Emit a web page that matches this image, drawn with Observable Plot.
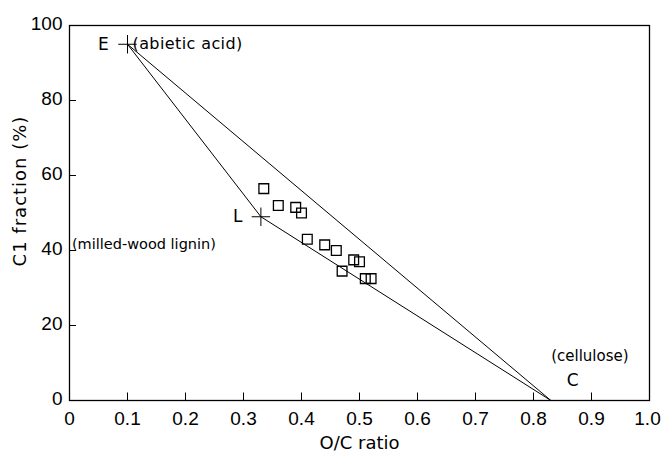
<!DOCTYPE html>
<html><head><meta charset="utf-8">
<script src="https://cdn.jsdelivr.net/npm/d3@7"></script>
<script src="https://cdn.jsdelivr.net/npm/@observablehq/plot@0.6"></script>
<style>
body{margin:0;background:#fff;}
.ylab text{letter-spacing:1px;}
.ann text{letter-spacing:0.4px;}
</style></head><body><div id="chart"></div>
<script>
const refNames = ["E", "L", "C"];
const refOC = [0.10, 0.33, 0.83];
const refC1 = [95, 49, 0];
const refDesc = ["(abietic acid)", "(milled-wood lignin)", "(cellulose)"];
const sampleOC = [0.335, 0.36, 0.39, 0.40, 0.41, 0.44, 0.46, 0.49, 0.50, 0.47, 0.51, 0.52];
const sampleC1 = [56.5, 52, 51.5, 50, 43, 41.5, 40, 37.5, 37, 34.5, 32.5, 32.5];
const xTicks = [0, 0.1, 0.2, 0.3, 0.4, 0.5, 0.6, 0.7, 0.8, 0.9, 1.0];
const xTickLabels = ["0", "0.1", "0.2", "0.3", "0.4", "0.5", "0.6", "0.7", "0.8", "0.9", "1.0"];
const yTicks = [0, 20, 40, 60, 80, 100];

const refs = refNames.map((n, i) => ({name: n, x: refOC[i], y: refC1[i], desc: refDesc[i]}));
const samples = sampleOC.map((x, i) => ({x, y: sampleC1[i]}));
const tri = [refs[0], refs[1], refs[2], refs[0]];
const fmtX = d => xTickLabels[xTicks.indexOf(d)];
const tickFont = "Liberation Sans, Arial, sans-serif";

const chart = Plot.plot({
  width: 661, height: 458,
  marginLeft: 69, marginRight: 12, marginTop: 25, marginBottom: 58,
  x: {domain: [0, 1]},
  y: {domain: [0, 100]},
  style: {fontSize: "16px", fontFamily: "DejaVu Sans, sans-serif", color: "#000", background: "#fff"},
  marks: [
    Plot.frame({stroke: "#000", strokeWidth: 1.3}),
    Plot.axisX({ticks: xTicks.slice(0, -1), tickSize: 0, tickPadding: 11, tickFormat: fmtX, fontSize: 19, fontFamily: tickFont, label: null}),
    Plot.axisX({ticks: xTicks.slice(-1), tickSize: 0, tickPadding: 11, tickFormat: fmtX, fontSize: 19, fontFamily: tickFont, dx: -2, label: null}),
    Plot.axisY({ticks: yTicks, tickSize: 0, tickPadding: 7, dy: -2, fontSize: 19, fontFamily: tickFont, label: null}),
    Plot.ruleX(xTicks, {x: d => d, y1: 0, y2: 2, stroke: "#000"}),
    Plot.ruleY(yTicks, {y: d => d, x1: 0, x2: 0.012, stroke: "#000"}),
    Plot.text(["O/C ratio"], {frameAnchor: "bottom", dy: 48, fontSize: 18}),
    Plot.text(["C1 fraction (%)"], {frameAnchor: "left", textAnchor: "middle", dx: -49, dy: -22, rotate: -90, fontSize: 18, className: "ylab"}),
    Plot.line(tri, {x: "x", y: "y", stroke: "#000", strokeWidth: 1}),
    Plot.dot(samples, {x: "x", y: "y", symbol: "square", r: 5.5, stroke: "#000", strokeWidth: 1.3, fill: "none"}),
    Plot.dot(refs.slice(0, 2), {x: "x", y: "y", symbol: "plus", r: 6, stroke: "#000", strokeWidth: 1}),
    Plot.text([refs[0]], {x: "x", y: "y", text: "name", dx: -24, fontSize: 17, className: "ann"}),
    Plot.text([refs[0]], {x: "x", y: "y", text: "desc", textAnchor: "start", dx: 5, fontSize: 16, className: "ann"}),
    Plot.text([refs[1]], {x: "x", y: "y", text: "name", dx: -23, fontSize: 17, className: "ann"}),
    Plot.text([refs[1]], {x: "x", y: "y", text: "desc", textAnchor: "end", dx: -45, dy: 28, fontSize: 14.5}),
    Plot.text([refs[2]], {x: "x", y: "y", text: "name", dx: 22, dy: -20, fontSize: 17, className: "ann"}),
    Plot.text([refs[2]], {x: "x", y: "y", text: "desc", dx: 39, dy: -44, fontSize: 15})
  ]
});
document.getElementById("chart").append(chart);
</script></body></html>
